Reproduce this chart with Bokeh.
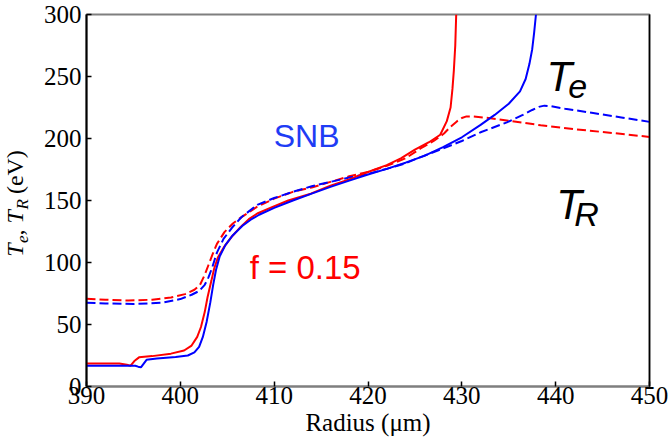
import math
from bokeh.plotting import figure
from bokeh.models import Label, LinearAxis, Range1d
from bokeh.layouts import row
from bokeh.embed import file_html
from bokeh.resources import INLINE

# ---------------- data ----------------
x_ticks = [390, 400, 410, 420, 430, 440, 450]
y_ticks = [0, 50, 100, 150, 200, 250, 300]

# Te, f = 0.15 (red solid)
red_te_x = [390, 393.5, 394.3, 394.7, 395.1, 395.6, 397, 399, 400.4, 401.2, 401.8, 402.2,
            402.6, 402.9, 403.3, 403.6, 404.0, 404.7, 405.5, 406.4, 407.3, 408.2, 409.9,
            411.5, 413.9, 416, 418, 420, 422, 423.5, 425, 426.5, 427.7, 428.4, 428.8,
            429.0, 429.15, 429.3, 429.4]
red_te_y = [18.5, 18.5, 17.5, 16.8, 20.5, 23.5, 24.5, 26.5, 29, 33, 40, 48,
            60, 72, 85, 95, 104, 113, 121, 128.5, 135, 139.5, 145,
            150, 155.5, 162, 167, 173, 178.5, 184, 191, 197, 203, 214, 225,
            240, 255, 275, 300]

# Te, SNB (blue solid)
blue_te_x = [390, 395.2, 395.5, 395.8, 396.1, 396.4, 397.5, 399.5, 400.8, 401.5, 402.0,
             402.4, 402.8, 403.2, 403.5, 403.8, 404.2, 404.8, 405.6, 406.6, 407.5, 408.4,
             410, 412, 414, 416, 418, 420, 422, 424, 426, 428, 430, 432, 433.5, 435,
             436.2, 436.8, 437.2, 437.5, 437.7, 437.9]
blue_te_y = [16.7, 16.7, 16.0, 15.4, 18.5, 21.5, 22.5, 23.8, 25, 27.5, 32,
             40, 52, 68, 82, 94, 105, 114, 122, 129.5, 134.5, 138.5,
             144, 150, 155.5, 161, 166, 171, 175.5, 180.5, 186, 193, 201, 211, 219, 228,
             238, 248, 260, 272, 285, 300]

# TR, f = 0.15 (red dashed)
red_tr_x = [390, 392, 394.5, 397, 399, 400.5, 401.5, 402.1, 402.6, 403.0, 403.4, 403.9,
            404.7, 405.6, 406.6, 408.2, 410, 412, 414, 416, 418, 420, 422, 424, 425.6,
            427, 428.1, 428.8, 429.5, 430.0, 430.5, 431.2, 432.5, 435, 438.4, 442, 446, 450]
red_tr_y = [70.8, 70, 69.3, 70, 71.8, 74.5, 78, 82, 90, 98, 106, 115,
            124.5, 131.5, 137, 145, 151.5, 157, 160.5, 165, 169.5, 173, 178, 184, 192,
            198, 204, 209.5, 214, 216.5, 217.8, 217.8, 216.8, 214.3, 210.7, 207.5, 204.5, 201.3]

# TR, SNB (blue dashed)
blue_tr_x = [390, 392, 395, 398, 400, 401.2, 402.0, 402.6, 403.0, 403.4, 403.9, 404.6,
             405.5, 406.5, 408.2, 410, 412, 414, 416, 418, 420, 422, 424, 425.6, 427.7,
             430, 432, 434.8, 436.5, 437.5, 438.2, 438.8, 439.5, 441, 444, 447, 450]
blue_tr_y = [67.5, 67, 66.5, 67.5, 70.5, 74, 77, 82, 88, 96, 108, 119,
             128, 136.5, 146.5, 152, 157, 161.5, 165, 168.5, 171.5, 175.5, 180, 185, 191,
             198, 205, 213, 219, 223, 225.5, 226.5, 226, 224, 220.5, 217, 213.4]

RED = "#ff0000"
BLUE = "#0000ff"
SERIF = "Liberation Serif"
SANS = "Liberation Sans"

# ---------------- main plot ----------------
p = figure(width=632, height=441, output_backend="svg", toolbar_location=None,
           x_range=Range1d(390, 450), y_range=Range1d(0, 300),
           min_border_left=48, min_border_right=21, min_border_top=14, min_border_bottom=55)
p.background_fill_color = "white"
p.border_fill_color = "white"
p.xgrid.visible = False
p.ygrid.visible = False
p.outline_line_color = "#7f7f7f"
p.outline_line_width = 2

p.line(red_tr_x, red_tr_y, line_color=RED, line_width=2, line_dash="9 4")
p.line(blue_tr_x, blue_tr_y, line_color=BLUE, line_width=2, line_dash="9 4")
p.line(red_te_x, red_te_y, line_color=RED, line_width=2)
p.line(blue_te_x, blue_te_y, line_color=BLUE, line_width=2)

for ax in (p.xaxis[0], p.yaxis[0]):
    ax.major_tick_in = 5
    ax.major_tick_out = 0
    ax.minor_tick_line_color = None
    ax.major_tick_line_color = "black"
    ax.major_tick_line_width = 1.5
    ax.major_label_text_font = SERIF
    ax.major_label_text_color = "black"

p.xaxis.ticker = x_ticks
p.yaxis.ticker = y_ticks
p.xaxis.major_label_text_font_size = "25px"
p.yaxis.major_label_text_font_size = "25px"
p.xaxis.major_label_standoff = 0
p.yaxis.major_label_standoff = 5
p.xaxis.axis_line_color = "#7f7f7f"
p.xaxis.axis_line_width = 2
p.yaxis.axis_line_color = "black"
p.yaxis.axis_line_width = 2

p.xaxis.axis_label = "Radius (\u03bcm)"
p.xaxis.axis_label_text_font = SERIF
p.xaxis.axis_label_text_font_style = "normal"
p.xaxis.axis_label_text_font_size = "25px"
p.xaxis.axis_label_text_color = "black"
p.xaxis.axis_label_standoff = 2

right = LinearAxis(ticker=[], major_label_text_font_size="0px",
                   axis_line_color="black", axis_line_width=1.5,
                   major_tick_line_color=None, minor_tick_line_color=None)
p.add_layout(right, "right")


def lab(fig, x, y, text, size, color="black", font=SANS, style="normal", angle=0.0,
        align="left", baseline="alphabetic"):
    fig.add_layout(Label(x=x, y=y, text=text, text_font=font, text_font_size=size,
                         text_font_style=style, text_color=color, angle=angle,
                         text_align=align, text_baseline=baseline))


lab(p, 409.95, 202.3, "SNB", "32px", color="#1e3cf5")
lab(p, 407.39, 96.0, "f = 0.15", "33px", color=RED)
lab(p, 439.01, 250.4, "T", "42px", style="italic")
lab(p, 441.35, 242.3, "e", "34px", style="italic")
lab(p, 440.07, 146.9, "T", "42px", style="italic")
lab(p, 441.99, 138.8, "R", "34px", style="italic")

# ---------------- y axis label (rotated, in its own strip) ----------------
# the strip's frame is aligned with the main frame (page y 14 .. 385.7);
# its y range is chosen so that y = 441 - page y
ylab = figure(width=38, height=441, output_backend="svg", toolbar_location=None,
              x_range=Range1d(0, 38), y_range=Range1d(441 - 385.7, 441 - 14),
              x_axis_location=None, y_axis_location=None,
              min_border_left=0, min_border_right=0, min_border_top=14, min_border_bottom=55)
ylab.outline_line_color = None
ylab.grid.visible = False
ylab.background_fill_color = "white"
ylab.border_fill_color = "white"

A = math.pi / 2
C = dict(angle=A, align="center", baseline="middle")
lab(ylab, 14.5, 191.65, "T", "24px", font=SERIF, style="italic", **C)
lab(ylab, 22.0, 202.55, "e", "17px", font=SERIF, style="italic", **C)
lab(ylab, 14.5, 209.3, ",", "24px", font=SERIF, **C)
lab(ylab, 14.5, 224.95, "T", "24px", font=SERIF, style="italic", **C)
lab(ylab, 22.0, 237.3, "R", "17px", font=SERIF, style="italic", **C)
lab(ylab, 14.5, 269.5, "(eV)", "24px", font=SERIF, **C)

layout = row(ylab, p, spacing=0)
open("out.html", "w").write(file_html(layout, INLINE))
